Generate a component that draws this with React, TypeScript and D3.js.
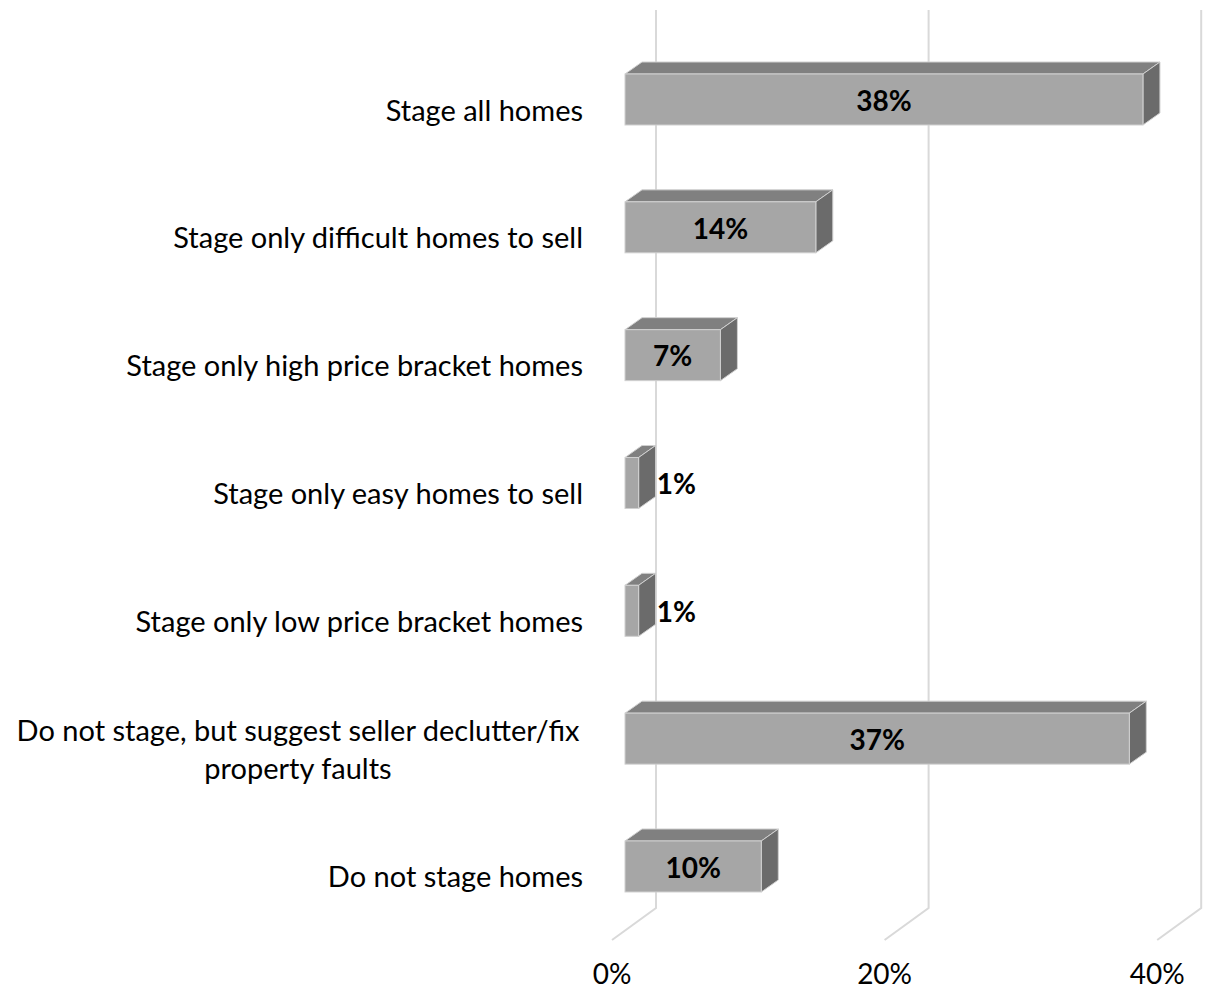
import React from 'react';
import * as d3 from 'd3';

const categories = [
  'Stage all homes',
  'Stage only difficult homes to sell',
  'Stage only high price bracket homes',
  'Stage only easy homes to sell',
  'Stage only low price bracket homes',
  'Do not stage, but suggest seller declutter/fix property faults',
  'Do not stage homes',
];
const labelLines = [
  ['Stage all homes'],
  ['Stage only difficult homes to sell'],
  ['Stage only high price bracket homes'],
  ['Stage only easy homes to sell'],
  ['Stage only low price bracket homes'],
  ['Do not stage, but suggest seller declutter/fix', 'property faults'],
  ['Do not stage homes'],
];
const values = [38, 14, 7, 1, 1, 37, 10];
const ticks = [0, 20, 40];

const W = 1206;
const H = 991;
const FONT = 'Lato, "Open Sans", sans-serif';

// 3D offsets
const depthX = 17;
const depthY = -12;
const wallX = 31;
const floorX = -13;
const wallTop = 10;
const floorBack = 908;
const floorFront = 940;

export default function App() {
  const x = d3.scaleLinear().domain([0, 40]).range([625, 625 + 40 * 13.63]);
  const step = 127.83;
  const pad = 1 - 51 / step;
  const y0 = 74 - (step * pad) / 2;
  const y = d3
    .scaleBand<string>()
    .domain(categories)
    .range([y0, y0 + step * categories.length])
    .paddingInner(pad)
    .paddingOuter(pad / 2);
  const bw = y.bandwidth();

  return (
    <svg width={W} height={H} style={{ position: 'absolute', left: 0, top: 0, background: '#fff' }}>
      {/* gridlines on back wall + floor */}
      {ticks.map((t) => (
        <g key={t}>
          <polyline
            points={`${x(t) + wallX},${wallTop} ${x(t) + wallX},${floorBack} ${x(t) + floorX},${floorFront}`}
            fill="none"
            stroke="#d9d9d9"
            strokeWidth={2}
          />
          <text
            x={x(t) + floorX}
            y={977}
            textAnchor="middle"
            dominantBaseline="middle"
            fontFamily={FONT}
            fontSize={28}
            fill="#000"
          >
            {t}%
          </text>
        </g>
      ))}

      {/* bars */}
      {categories.map((c, i) => {
        const x0 = x(0);
        const x1 = x(values[i]);
        const top = y(c)!;
        const bot = top + bw;
        const topFace = `${x0},${top} ${x0 + depthX},${top + depthY} ${x1 + depthX},${top + depthY} ${x1},${top}`;
        const sideFace = `${x1},${top} ${x1 + depthX},${top + depthY} ${x1 + depthX},${bot + depthY} ${x1},${bot}`;
        const small = x1 - x0 < 60;
        const cy = top + bw / 2;
        return (
          <g key={c}>
            <polygon points={topFace} fill="#808080" stroke="#d0d0d0" strokeWidth={1} />
            <polygon points={sideFace} fill="#6b6b6b" stroke="#d0d0d0" strokeWidth={1} />
            <rect x={x0} y={top} width={x1 - x0} height={bw} fill="#a6a6a6" stroke="#d0d0d0" strokeWidth={1} />
            <text
              x={small ? x1 + depthX + 1 : (x0 + x1) / 2}
              y={cy + 4}
              textAnchor={small ? 'start' : 'middle'}
              dominantBaseline="middle"
              fontFamily={FONT}
              fontWeight="bold"
              fontSize={28}
              fill="#000"
            >
              {values[i]}%
            </text>
            <text
              textAnchor="middle"
              fontFamily={FONT}
              fontSize={29}
              fill="#000"
              dominantBaseline="middle"
            >
              {labelLines[i].map((ln, k) => {
                const n = labelLines[i].length;
                const ly = cy + 14 + (k - (n - 1) / 2) * 38;
                return (
                  <tspan key={k} x={n > 1 ? 298 : 583} y={ly} textAnchor={n > 1 ? 'middle' : 'end'}>
                    {ln}
                  </tspan>
                );
              })}
            </text>
          </g>
        );
      })}
    </svg>
  );
}
